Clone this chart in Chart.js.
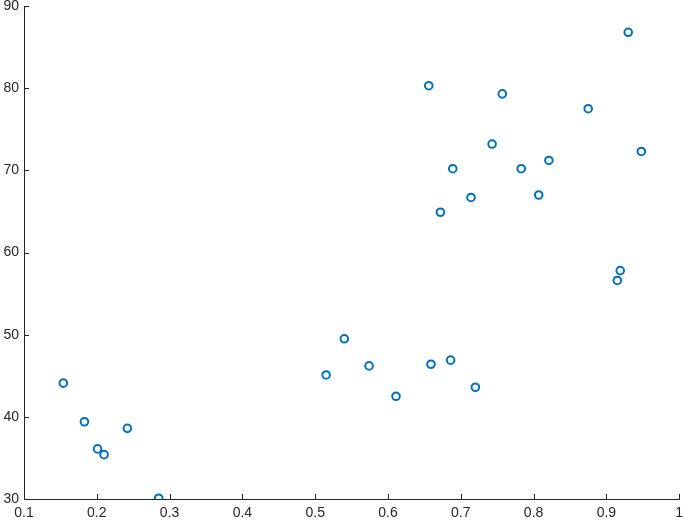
<!DOCTYPE html>
<html lang="en">
<head>
    <meta charset="UTF-8">
    <title>Scatter</title>
    <style>
        html, body { margin: 0; padding: 0; background: #fff; }
        .chart-container { position: relative; width: 685px; height: 522px; }
    </style>
</head>
<body>
    <div class="chart-container">
        <canvas id="myChart" width="685" height="522"></canvas>
    </div>

    <script src="https://cdn.jsdelivr.net/npm/chart.js@4.4.1/dist/chart.umd.min.js"></script>
    <script>
        // data
        const xValues = [0.154, 0.183, 0.201, 0.210, 0.242, 0.285,
                         0.515, 0.540, 0.574, 0.611, 0.659, 0.686, 0.720,
                         0.656, 0.757, 0.875, 0.743, 0.948, 0.821, 0.689, 0.783,
                         0.807, 0.714, 0.672, 0.919, 0.915, 0.930];
        const yValues = [44.1, 39.4, 36.1, 35.4, 38.6, 30.1,
                         45.1, 49.5, 46.2, 42.5, 46.4, 46.9, 43.6,
                         80.3, 79.3, 77.5, 73.2, 72.3, 71.2, 70.2, 70.2,
                         67.0, 66.7, 64.9, 57.8, 56.6, 86.8];
        const xTicks = [0.1, 0.2, 0.3, 0.4, 0.5, 0.6, 0.7, 0.8, 0.9, 1];
        const yTicks = [30, 40, 50, 60, 70, 80, 90];

        const axisColor = '#262626';
        const tickFont = { family: 'Liberation Sans, Arial, sans-serif', size: 14 };

        // short inward tick marks, like the original
        const innerTicks = {
            id: 'innerTicks',
            afterDatasetsDraw(chart) {
                const c = chart.ctx;
                const xs = chart.scales.x, ys = chart.scales.y;
                c.save();
                c.strokeStyle = axisColor;
                c.lineWidth = 1;
                c.beginPath();
                xTicks.forEach(v => {
                    const px = Math.round(xs.getPixelForValue(v)) + 0.5;
                    c.moveTo(px, ys.bottom);
                    c.lineTo(px, ys.bottom - 5);
                });
                yTicks.forEach(v => {
                    const py = Math.round(ys.getPixelForValue(v)) + 0.5;
                    c.moveTo(xs.left, py);
                    c.lineTo(xs.left + 5, py);
                });
                c.stroke();
                c.restore();
            }
        };

        const ctx = document.getElementById('myChart');
        const points = xValues.map((x, i) => ({ x: x, y: yValues[i] }));

        new Chart(ctx, {
            type: 'scatter',
            data: {
                datasets: [{
                    data: points,
                    borderColor: '#0072BD',
                    backgroundColor: 'rgba(255,255,255,0)',
                    borderWidth: 2,
                    pointRadius: 3.8,
                    pointHoverRadius: 3.8
                }]
            },
            options: {
                responsive: false,
                animation: false,
                layout: { padding: { top: 6, right: 5, left: 0, bottom: 0 } },
                plugins: {
                    legend: { display: false },
                    tooltip: { enabled: false }
                },
                scales: {
                    x: {
                        type: 'linear',
                        min: 0.1,
                        max: 1,
                        afterBuildTicks: s => { s.ticks = xTicks.map(v => ({ value: v })); },
                        afterFit: s => {
                            s.height = 23;
                            s.paddingLeft = 0; s.paddingRight = 0;
                        },
                        grid: { display: false, drawTicks: false },
                        border: { display: true, color: axisColor, width: 1 },
                        ticks: {
                            color: axisColor,
                            padding: 6,
                            maxRotation: 0,
                            autoSkip: false,
                            font: tickFont,
                            callback: v => String(v)
                        }
                    },
                    y: {
                        type: 'linear',
                        min: 30,
                        max: 90,
                        afterBuildTicks: s => { s.ticks = yTicks.map(v => ({ value: v })); },
                        afterFit: s => {
                            s.width = 24;
                            s.paddingTop = 0; s.paddingBottom = 0;
                        },
                        grid: { display: false, drawTicks: false },
                        border: { display: true, color: axisColor, width: 1 },
                        ticks: {
                            color: axisColor,
                            padding: 5,
                            autoSkip: false,
                            font: tickFont,
                            callback: v => String(v)
                        }
                    }
                }
            },
            plugins: [innerTicks]
        });
    </script>
</body>
</html>
